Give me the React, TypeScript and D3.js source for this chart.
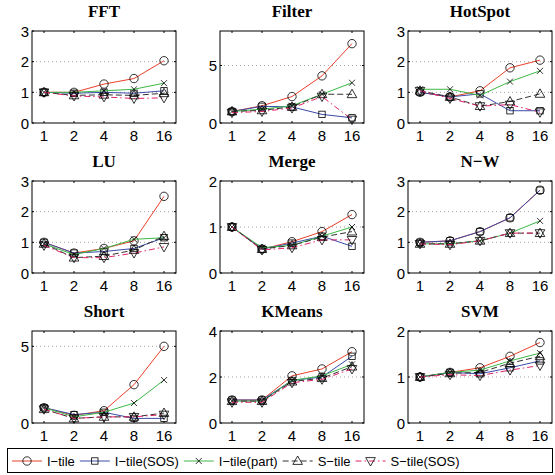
import React, { useRef, useEffect } from 'react';
import * as d3 from 'd3';

const xLabels = ['1', '2', '4', '8', '16'];
const seriesNames = ['I−tile', 'I−tile(SOS)', 'I−tile(part)', 'S−tile', 'S−tile(SOS)'];
const seriesColors = ['#e8402a', '#3a4ca8', '#3cb846', '#333333', '#e0246a'];
const seriesDash = [null, null, null, '6,3', '6,3,1.5,3'];
const seriesMarkers = ['circle', 'square', 'cross', 'triUp', 'triDown'];

const titles = ['FFT', 'Filter', 'HotSpot', 'LU', 'Merge', 'N−W', 'Short', 'KMeans', 'SVM'];
const yMaxes = [3, 8, 3, 3, 2, 3, 6, 4, 2];
const yTickSets = [[0, 1, 2, 3], [0, 5], [0, 1, 2, 3], [0, 1, 2, 3], [0, 1, 2], [0, 1, 2, 3], [0, 5], [0, 2, 4], [0, 1, 2]];

// each: I-tile, I-tile(SOS), I-tile(part), S-tile, S-tile(SOS)
const fftValues = [
  [1, 1, 1.27, 1.45, 2.03],
  [1, 0.97, 1.0, 0.97, 1.05],
  [1, 1.0, 1.05, 1.1, 1.3],
  [1, 0.9, 0.92, 0.9, 0.97],
  [1, 0.88, 0.85, 0.8, 0.82],
];
const filterValues = [
  [1, 1.5, 2.3, 4.1, 6.9],
  [1, 1.45, 1.4, 0.75, 0.45],
  [1, 1.2, 1.5, 2.5, 3.5],
  [1, 1.1, 1.4, 2.5, 2.5],
  [0.9, 1.0, 1.3, 2.3, 0.3],
];
const hotspotValues = [
  [1.0, 0.85, 1.05, 1.8, 2.05],
  [1.0, 0.85, 0.95, 0.4, 0.4],
  [1.1, 1.1, 0.9, 1.35, 1.7],
  [1.05, 0.85, 0.55, 0.7, 0.95],
  [1.05, 0.8, 0.55, 0.6, 0.35],
];
const luValues = [
  [1.0, 0.65, 0.8, 1.05, 2.5],
  [1.0, 0.65, 0.7, 0.8, 1.15],
  [0.95, 0.6, 0.8, 1.1, 1.15],
  [0.95, 0.5, 0.55, 0.75, 1.2],
  [0.9, 0.5, 0.5, 0.65, 0.85],
];
const mergeValues = [
  [1, 0.52, 0.68, 0.9, 1.27],
  [1, 0.52, 0.65, 0.8, 0.58],
  [1, 0.55, 0.6, 0.8, 1.0],
  [1, 0.52, 0.6, 0.78, 0.9],
  [1, 0.5, 0.55, 0.72, 0.72],
];
const nwValues = [
  [1.0, 1.05, 1.35, 1.8, 2.7],
  [1.0, 1.05, 1.35, 1.8, 2.7],
  [0.95, 0.95, 1.05, 1.3, 1.7],
  [0.95, 0.95, 1.05, 1.3, 1.3],
  [0.95, 0.92, 1.05, 1.3, 1.3],
];
const shortValues = [
  [1.0, 0.5, 0.8, 2.5, 5.0],
  [1.0, 0.55, 0.7, 0.3, 0.3],
  [1.0, 0.4, 0.7, 1.3, 2.8],
  [0.9, 0.3, 0.4, 0.4, 0.65],
  [0.9, 0.3, 0.4, 0.4, 0.55],
];
const kmeansValues = [
  [1.0, 1.0, 2.05, 2.35, 3.1],
  [1.0, 1.0, 1.85, 2.0, 2.9],
  [0.95, 0.95, 1.85, 2.05, 2.55],
  [0.95, 0.95, 1.8, 1.95, 2.45],
  [0.9, 0.9, 1.75, 1.9, 2.35],
];
const svmValues = [
  [1.0, 1.1, 1.2, 1.45, 1.75],
  [1.0, 1.1, 1.07, 1.2, 1.35],
  [1.0, 1.1, 1.15, 1.35, 1.52],
  [1.0, 1.08, 1.1, 1.3, 1.45],
  [1.0, 1.05, 1.03, 1.15, 1.25],
];
const panelValues = [fftValues, filterValues, hotspotValues, luValues, mergeValues, nwValues, shortValues, kmeansValues, svmValues];

function drawMarker(g, type, x, y) {
  const s = g.append('g').attr('transform', `translate(${x},${y})`)
    .attr('fill', 'none').attr('stroke', '#000').attr('stroke-width', 0.8);
  if (type === 'circle') s.append('circle').attr('r', 4.2);
  else if (type === 'square') s.append('rect').attr('x', -3.2).attr('y', -3.2).attr('width', 6.4).attr('height', 6.4);
  else if (type === 'cross') s.append('path').attr('d', 'M-3,-3L3,3M-3,3L3,-3');
  else if (type === 'triUp') s.append('path').attr('d', 'M0,-5L4.8,3.4L-4.8,3.4Z');
  else if (type === 'triDown') s.append('path').attr('d', 'M0,5L4.8,-3.4L-4.8,-3.4Z');
}

const App = () => {
  const ref = useRef(null);

  useEffect(() => {
    const width = 555;
    const height = 475;
    const root = d3.select(ref.current);
    root.selectAll('*').remove();
    const svg = root.append('svg')
      .attr('width', width)
      .attr('height', height)
      .style('display', 'block')
      .style('position', 'absolute')
      .style('left', 0)
      .style('top', 0);
    svg.append('rect').attr('width', width).attr('height', height).attr('fill', '#fff');

    const pw = 144;
    const ph = 92;
    const tickFont = '"Liberation Sans", Arial, sans-serif';

    titles.forEach((title, i) => {
      const col = i % 3;
      const row = Math.floor(i / 3);
      const left = 32 + col * 188;
      const top = 31 + row * 150;
      const x = d3.scalePoint().domain(xLabels).range([left, left + pw]).padding(0.4);
      const y = d3.scaleLinear().domain([0, yMaxes[i]]).range([top + ph, top]);
      const g = svg.append('g');

      // grid
      yTickSets[i].filter(t => t > 0 && t < yMaxes[i]).forEach(t => {
        g.append('line')
          .attr('x1', left).attr('x2', left + pw)
          .attr('y1', y(t)).attr('y2', y(t))
          .attr('stroke', '#888').attr('stroke-width', 0.8)
          .attr('stroke-dasharray', '1,3');
      });

      // series
      panelValues[i].forEach((vals, si) => {
        const ln = d3.line().x((d, k) => x(xLabels[k])).y(d => y(d));
        g.append('path')
          .attr('d', ln(vals))
          .attr('fill', 'none')
          .attr('stroke', seriesColors[si])
          .attr('stroke-width', 1)
          .attr('stroke-dasharray', seriesDash[si]);
        vals.forEach((v, k) => drawMarker(g, seriesMarkers[si], x(xLabels[k]), y(v)));
      });

      // frame
      g.append('rect')
        .attr('x', left).attr('y', top).attr('width', pw).attr('height', ph)
        .attr('fill', 'none').attr('stroke', '#000').attr('stroke-width', 1);

      // ticks
      xLabels.forEach(l => {
        g.append('line').attr('x1', x(l)).attr('x2', x(l)).attr('y1', top + ph).attr('y2', top + ph - 2).attr('stroke', '#000');
        g.append('line').attr('x1', x(l)).attr('x2', x(l)).attr('y1', top).attr('y2', top + 2).attr('stroke', '#000');
        g.append('text').attr('x', x(l)).attr('y', top + ph + 18)
          .attr('text-anchor', 'middle').attr('font-family', tickFont).attr('font-size', 15)
          .text(l);
      });
      yTickSets[i].forEach(t => {
        g.append('line').attr('x1', left).attr('x2', left + 2).attr('y1', y(t)).attr('y2', y(t)).attr('stroke', '#000');
        g.append('line').attr('x1', left + pw).attr('x2', left + pw - 2).attr('y1', y(t)).attr('y2', y(t)).attr('stroke', '#000');
        g.append('text').attr('x', left - 3).attr('y', y(t) + 5.5)
          .attr('text-anchor', 'end').attr('font-family', tickFont).attr('font-size', 15)
          .text(t);
      });

      g.append('text')
        .attr('x', left + pw / 2).attr('y', top - 14)
        .attr('text-anchor', 'middle')
        .attr('font-family', '"Liberation Serif", "Times New Roman", serif')
        .attr('font-weight', 'bold').attr('font-size', 17)
        .text(title);
    });

    // legend
    const lg = svg.append('g');
    const ly = 461;
    lg.append('rect').attr('x', 7.5).attr('y', 448.5).attr('width', 545).attr('height', 24)
      .attr('fill', '#fff').attr('stroke', '#000').attr('stroke-width', 1);
    let cx = 12;
    seriesNames.forEach((name, si) => {
      lg.append('line').attr('x1', cx).attr('x2', cx + 30).attr('y1', ly).attr('y2', ly)
        .attr('stroke', seriesColors[si]).attr('stroke-width', 1)
        .attr('stroke-dasharray', seriesDash[si]);
      drawMarker(lg, seriesMarkers[si], cx + 15, ly);
      const t = lg.append('text').attr('x', cx + 35).attr('y', ly + 5)
        .attr('font-family', tickFont).attr('font-size', 13).text(name);
      const w = t.node().getComputedTextLength();
      cx += 35 + w + 5;
    });
  }, []);

  return <div ref={ref} style={{ width: 555, height: 475 }} />;
};

export default App;
